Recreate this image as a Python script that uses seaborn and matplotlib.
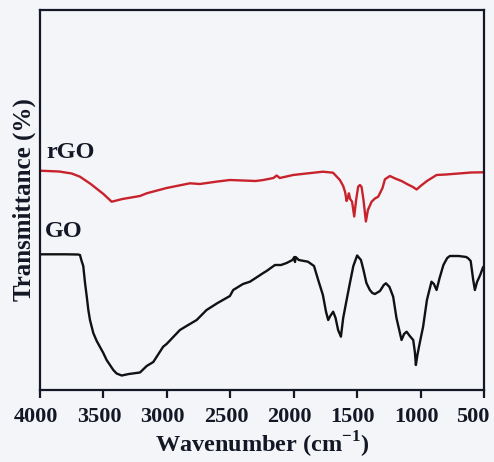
import numpy as np
import pandas as pd
import matplotlib
matplotlib.use("Agg")
import matplotlib.pyplot as plt
import matplotlib.transforms as mtransforms
import seaborn as sns

# ---- data (arbitrary transmittance units) ----
go_wn = [4000, 3800, 3700, 3685, 3672, 3659, 3645, 3632, 3619, 3606, 3580, 3553,
         3501, 3475, 3422, 3396, 3356, 3300, 3212, 3159, 3107, 3029, 3002, 2897,
         2845, 2765, 2687, 2600, 2503, 2477, 2400, 2345, 2300, 2240, 2214, 2148,
         2100, 2056, 2010, 1995, 1990, 1985, 1960, 1888, 1840, 1807, 1770, 1745,
         1728, 1712, 1689, 1670, 1650, 1628, 1610, 1583, 1557, 1530, 1500, 1470,
         1450, 1427, 1400, 1380, 1360, 1320, 1290, 1273, 1245, 1216, 1190, 1150,
         1130, 1110, 1085, 1058, 1045, 1037, 1025, 1005, 980, 950, 914, 895, 874,
         850, 820, 790, 769, 700, 640, 625, 605, 585, 572, 555, 530, 507]
go_val = [145.7, 145.7, 145.5, 145, 139, 134, 117, 104, 90, 80, 67, 59,
          47, 40, 30, 26.5, 24.5, 26, 27.5, 34, 38, 53.3, 56, 70,
          74, 80, 90, 97, 104, 110, 116, 118.3, 122, 127, 129, 135,
          135, 137, 140, 143, 138, 143, 140, 138.3, 134, 120, 105, 88,
          80, 84, 88.3, 82, 70, 63.3, 82, 100, 117, 134, 144.5, 140,
          130, 117, 110, 107, 106, 109, 115, 116.7, 113, 103.3, 82, 60,
          66, 68.3, 64, 60, 48, 35, 45, 58, 73.3, 100, 118.3, 116, 110,
          122, 135, 142, 144, 144, 143, 141.7, 139, 120, 110, 118, 125, 133]

rgo_wn = [4000, 3850, 3750, 3685, 3600, 3500, 3435, 3350, 3212, 3159, 3002, 2818,
          2740, 2600, 2503, 2400, 2300, 2240, 2160, 2135, 2110, 2005, 1900, 1770,
          1690, 1636, 1610, 1595, 1583, 1572, 1565, 1555, 1540, 1523, 1508, 1492,
          1478, 1465, 1450, 1431, 1415, 1386, 1360, 1334, 1300, 1281, 1242, 1200,
          1150, 1100, 1060, 1031, 1000, 950, 874, 800, 700, 600, 505]
rgo_val = [229.3, 228.5, 226.5, 223.3, 216, 206, 198.3, 201, 204, 206.7, 212, 216.7,
           216, 218.5, 220, 219.5, 219, 220, 222, 224.5, 222, 225, 226.5, 228.3,
           227.3, 220, 214, 208, 199, 203, 206.7, 201, 198.3, 183.5, 200, 213.3,
           215, 213, 200, 178.5, 190, 198.3, 201.5, 203.3, 212, 220.7, 224, 221.5,
           219, 215.5, 213, 210.5, 214, 219, 225, 225.5, 226.5, 227.5, 227.7]

x_ticks = [4000, 3500, 3000, 2500, 2000, 1500, 1000, 500]
series_labels = ["rGO", "GO"]

# ---- styling ----
sns.set_style("ticks")
plt.rcParams["font.family"] = ["Liberation Serif", "DejaVu Serif"]
plt.rcParams["mathtext.fontset"] = "custom"
plt.rcParams["mathtext.rm"] = "Liberation Serif"
plt.rcParams["mathtext.bf"] = "Liberation Serif:bold"

bg = "#f3f5f9"
ink = "#141826"

df_go = pd.DataFrame({"wn": go_wn, "val": go_val})
df_rgo = pd.DataFrame({"wn": rgo_wn, "val": rgo_val})

fig = plt.figure(figsize=(4.94, 4.62), dpi=100, facecolor=bg)
ax = fig.add_axes([40 / 494, 1 - 390 / 462, 444 / 494, 380 / 462])
ax.set_facecolor(bg)

sns.lineplot(data=df_rgo, x="wn", y="val", ax=ax, color="#c8232c", lw=1.7,
             sort=False, estimator=None)
sns.lineplot(data=df_go, x="wn", y="val", ax=ax, color="#111111", lw=1.7,
             sort=False, estimator=None)

ax.set_xlim(4000, 500)
ax.set_ylim(10, 390)
ax.set_xticks(x_ticks)
ax.set_xticklabels([str(t) for t in x_ticks])
ax.set_yticks([])

for s in ax.spines.values():
    s.set_visible(True)
    s.set_linewidth(1.6)
    s.set_color(ink)

ax.tick_params(axis="x", direction="out", length=6, width=1.6, color=ink,
               labelsize=16, labelcolor=ink, pad=6)
labels = ax.get_xticklabels()
for i, lab in enumerate(labels):
    lab.set_fontweight("bold")
    dx = -3 / 72 if i < len(labels) - 1 else -8 / 72
    lab.set_transform(lab.get_transform() +
                      mtransforms.ScaledTranslation(dx, 0, fig.dpi_scale_trans))

ax.set_xlabel(r"Wavenumber (cm$^{\mathbf{-1}}$)", fontsize=17.5, fontweight="bold",
              color=ink, labelpad=2)
ax.set_ylabel("Transmittance (%)", fontsize=18, fontweight="bold", color=ink,
              labelpad=3)

ax.text(3948, 248, series_labels[0], fontsize=17.5, fontweight="bold", color=ink,
        ha="left", va="center")
ax.text(3960, 168, series_labels[1], fontsize=17.5, fontweight="bold", color=ink,
        ha="left", va="center")

fig.savefig("out.png", dpi=100, facecolor=bg)
